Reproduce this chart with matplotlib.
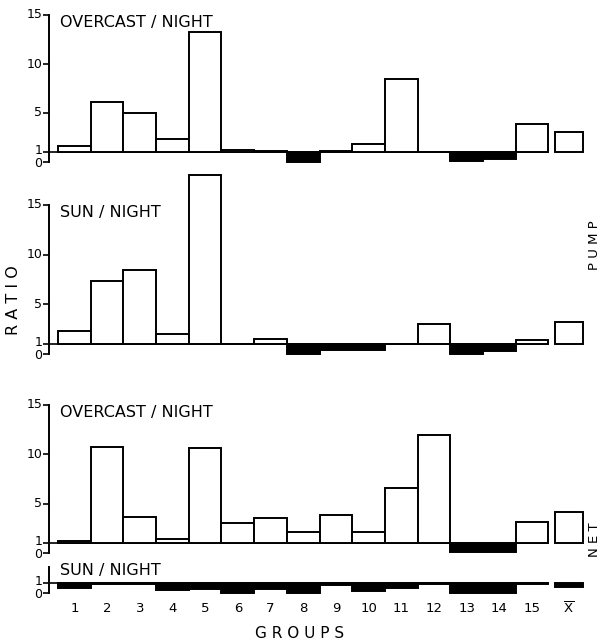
import numpy as np
import matplotlib.pyplot as plt

groups = list(range(1, 16))
group_labels = [str(g) for g in groups] + [r'$\overline{\mathrm{X}}$']

pump_overcast = [1.6, 6.1, 5.0, 2.3, 13.3, 1.2, 1.15, 0.05, 1.1, 1.8, 8.5, 1.0, 0.1, 0.35, 3.9]
pump_overcast_mean = 3.1
pump_sun = [2.3, 7.3, 8.5, 2.0, 18.0, 1.0, 1.5, 0.05, 0.4, 0.4, 1.0, 3.0, 0.0, 0.35, 1.4]
pump_sun_mean = 3.2
net_overcast = [1.2, 10.7, 3.6, 1.4, 10.6, 3.0, 3.5, 2.1, 3.9, 2.1, 6.6, 12.0, 0.1, 0.1, 3.1]
net_overcast_mean = 4.2
net_sun = [0.55, 0.95, 0.95, 0.27, 0.45, 0.05, 0.45, 0.05, 0.8, 0.2, 0.55, 0.9, 0.05, 0.05, 0.95]
net_sun_mean = 0.6

W, H = 604, 643
fig = plt.figure(figsize=(W / 100, H / 100), dpi=100)

x0, x1 = 0.225, 16.77
xmean = 16.12


def make_axes(top_px, bottom_px):
    ax = fig.add_axes([49 / W, 1 - bottom_px / H, (590 - 49) / W, (bottom_px - top_px) / H])
    for s in ['top', 'right', 'bottom']:
        ax.spines[s].set_visible(False)
    ax.spines['left'].set_linewidth(1.4)
    ax.set_xlim(x0, x1)
    ax.set_xticks([])
    ax.tick_params(axis='y', direction='out', length=4, width=1.2, labelleft=False)
    ax.patch.set_alpha(0)
    return ax


def draw_panel(ax, vals, mean, title, ytop, ticks):
    allx = groups + [xmean]
    allv = list(vals) + [mean]
    widths = [1.0] * 15 + [0.86]
    for x, v, w in zip(allx, allv, widths):
        fc = 'white' if v >= 1 else 'black'
        ax.bar(x, v - 1, bottom=1, width=w, facecolor=fc, edgecolor='black',
               linewidth=1.4, clip_on=False, zorder=3)
    ax.plot([x0, 15.5], [1, 1], color='black', lw=1.2, zorder=2)
    ax.set_ylim(0, ytop)
    ax.set_yticks(ticks)
    # tick labels by hand so 0 and 1 can sit close without touching
    for t in ticks:
        dy = {0: -1.3, 1: 1.3}.get(t, 0)
        ax.annotate(str(t), xy=(0, t), xycoords=('axes fraction', 'data'),
                    xytext=(-5, dy), textcoords='offset points',
                    ha='right', va='center', fontsize=9)
    ax.text(0.55, ytop, title, fontsize=11.5, va='top', ha='left')
    return ax


ax1 = make_axes(15, 162)
draw_panel(ax1, pump_overcast, pump_overcast_mean, 'OVERCAST / NIGHT', 15, [0, 1, 5, 10, 15])

ax2 = make_axes(205, 354)
draw_panel(ax2, pump_sun, pump_sun_mean, 'SUN / NIGHT', 15, [0, 1, 5, 10, 15])

ax3 = make_axes(405, 553)
draw_panel(ax3, net_overcast, net_overcast_mean, 'OVERCAST / NIGHT', 15, [0, 1, 5, 10, 15])

ax4 = make_axes(567, 593)
draw_panel(ax4, net_sun, net_sun_mean, 'SUN / NIGHT', 2.6, [0, 1])
ax4.texts[-1].set_y(3.0)

for x, lab in zip(groups + [xmean], group_labels):
    ax4.text(x, -1.6, lab, ha='center', va='center', fontsize=9.5)

fig.text(300 / W, 1 - 633 / H, 'G R O U P S', ha='center', va='center', fontsize=11)
fig.text(14 / W, 1 - 300 / H, 'R A T I O', ha='center', va='center', fontsize=11.5, rotation=90)
fig.text(595 / W, 1 - 245 / H, 'P U M P', ha='center', va='center', fontsize=9.5, rotation=90)
fig.text(595 / W, 1 - 540 / H, 'N E T', ha='center', va='center', fontsize=9.5, rotation=90)

fig.savefig('out.png', dpi=100)
